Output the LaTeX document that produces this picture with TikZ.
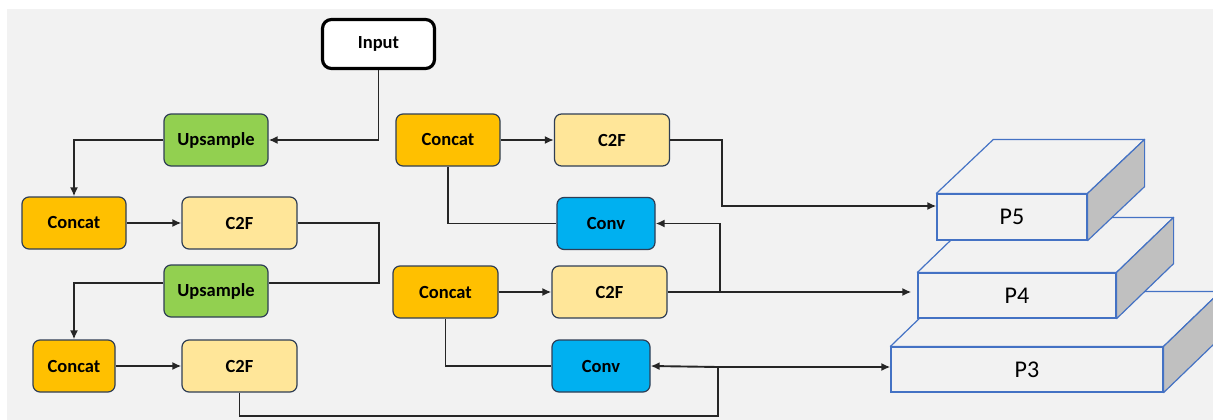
\documentclass[tikz,border=0pt]{standalone}
\usepackage{fontspec}
\setmainfont{Carlito}
\usetikzlibrary{arrows.meta, positioning, calc}
\definecolor{bggrey}{RGB}{242,242,242}
\definecolor{concatorange}{RGB}{255,192,0}
\definecolor{cffyellow}{RGB}{255,230,153}
\definecolor{upgreen}{RGB}{146,208,80}
\definecolor{convblue}{RGB}{0,176,240}
\definecolor{edgenavy}{RGB}{47,62,85}
\definecolor{levelblue}{RGB}{68,114,196}
\definecolor{sidegrey}{RGB}{192,192,192}
\definecolor{wiredark}{RGB}{38,38,38}

\begin{document}
\begin{tikzpicture}[
    x=1pt, y=-1pt,
    block/.style={rectangle, draw=edgenavy, line width=1.2pt, rounded corners=7pt, minimum height=52pt, inner sep=0pt, font=\fontsize{18.5}{20}\selectfont\bfseries},
    concat/.style={block, fill=concatorange, minimum width=104pt},
    cff/.style={block, fill=cffyellow, minimum width=115pt},
    upsample/.style={block, fill=upgreen, minimum width=104pt},
    conv/.style={block, fill=convblue, minimum width=98pt},
    level/.style={rectangle, draw=levelblue, line width=1.2pt, fill=bggrey, minimum height=45pt, inner sep=0pt, font=\fontsize{24}{26}\selectfont},
    face/.style={draw=levelblue, line width=1.2pt, fill=bggrey, line join=round},
    side/.style={face, fill=sidegrey},
    wire/.style={draw=wiredark, line width=1.9pt},
    arrow/.style={wire, -{Latex[length=9pt, width=8pt]}}
]
    \useasboundingbox (0,0) rectangle (1213,420);
    \fill[bggrey] (7,9) rectangle (1213,420);

    % Input
    \node[block, fill=white, draw=black, line width=3.2pt, rounded corners=9pt, minimum width=112pt, minimum height=49pt] (input) at (378.5, 44) {Input};

    % Left column
    \node[upsample] (up1) at (216, 140) {Upsample};
    \node[concat] (cat1) at (74, 223) {Concat};
    \node[cff] (c2f1) at (239.5, 223) {C2F};
    \node[upsample] (up2) at (216, 291) {Upsample};
    \node[concat, minimum width=82pt] (cat2) at (74, 366) {Concat};
    \node[cff] (c2f2) at (239.5, 366) {C2F};

    % Middle column
    \node[concat] (cat3) at (448, 140) {Concat};
    \node[cff] (c2f3) at (612, 140) {C2F};
    \node[conv] (conv1) at (606, 223.5) {Conv};
    \node[concat, minimum width=105pt] (cat4) at (445.5, 292) {Concat};
    \node[cff] (c2f4) at (609.5, 292) {C2F};
    \node[conv] (conv2) at (601, 366) {Conv};

    % Output levels
    \node[level, minimum width=272pt] (p3) at (1027, 369.5) {P3};
    \draw[face] (p3.north west) -- ++(57,-55) -- ($(p3.north east)+(57,-55)$) -- (p3.north east) -- cycle;
    \draw[side] (p3.north east) -- ++(57,-55) -- ($(p3.south east)+(57,-55)$) -- (p3.south east) -- cycle;
    \node[level, minimum width=198pt] (p4) at (1017, 295.5) {P4};
    \draw[face] (p4.north west) -- ++(57,-55) -- ($(p4.north east)+(57,-55)$) -- (p4.north east) -- cycle;
    \draw[side] (p4.north east) -- ++(57,-55) -- ($(p4.south east)+(57,-55)$) -- (p4.south east) -- cycle;
    \node[level, minimum width=150pt, minimum height=46pt] (p5) at (1012, 217) {P5};
    \draw[face] (p5.north west) -- ++(57,-54) -- ($(p5.north east)+(57,-54)$) -- (p5.north east) -- cycle;
    \draw[side] (p5.north east) -- ++(57,-54) -- ($(p5.south east)+(57,-54)$) -- (p5.south east) -- cycle;

    % Junctions
    \coordinate (j1) at (379, 283);
    \coordinate (j2) at (718, 416);
    \coordinate (b3) at (718, 367);
    \coordinate (k4) at (720, 292);
    \coordinate (k5) at (722, 206);

    % Left connectors
    \draw[arrow] (input.south) |- (up1.east);
    \draw[arrow] (up1.west) -| (cat1.north);
    \draw[arrow] (cat1) -- (c2f1);
    \draw[wire] (c2f1.east) -| (j1) -- (j1 -| up2.east);
    \draw[arrow] (up2.west |- j1) -| (cat2.north);
    \draw[arrow] (cat2) -- (c2f2);
    \draw[wire] (c2f2.south) |- (j2) -- (b3);

    % Middle connectors
    \draw[arrow] (cat3) -- (c2f3);
    \draw[wire] (cat3.south) |- (conv1.west);
    \draw[arrow] (cat4) -- (c2f4);
    \draw[wire] (cat4.south) |- (conv2.west);
    \draw[arrow] (k4) |- (conv1.east);
    \draw[arrow] (b3) -- (conv2.east);

    % To the output levels
    \draw[arrow] (c2f3.east) -| (k5) -- (k5 -| p5.west);
    \draw[arrow, shorten >=6pt] (c2f4.east) -- (c2f4.east -| p4.west);
    \draw[arrow] (b3) -- (b3 -| p3.west);

\end{tikzpicture}
\end{document}
